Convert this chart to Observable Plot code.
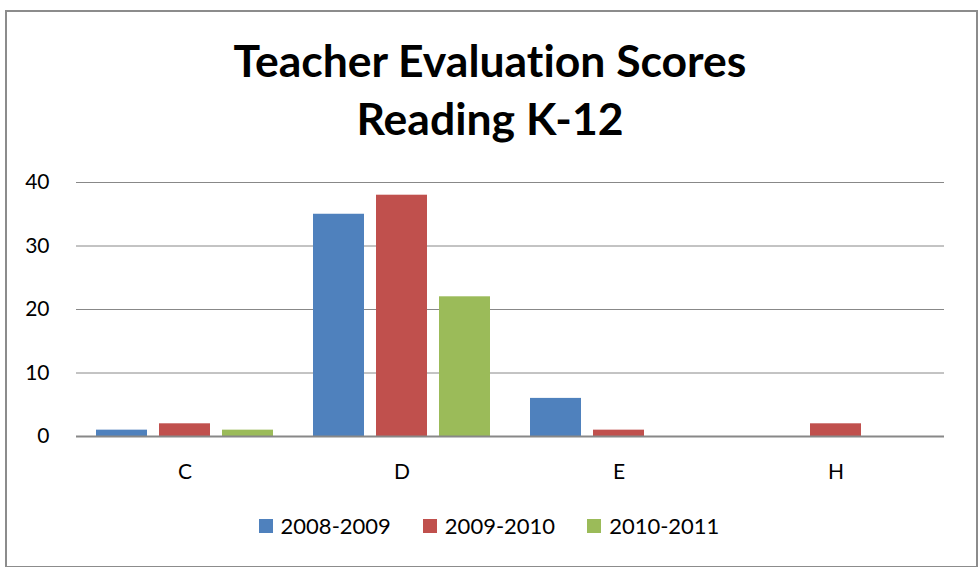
<!DOCTYPE html>
<html>
<head>
<meta charset="utf-8">
<script src="https://cdn.jsdelivr.net/npm/d3@7"></script>
<script src="https://cdn.jsdelivr.net/npm/@observablehq/plot@0.6"></script>
<style>
  html, body { margin: 0; padding: 0; background: #fff; }
  #frame { position: absolute; left: 5px; top: 10px; width: 969px; height: 554px; border: 2px solid #8c8c8c; box-sizing: content-box; }
  #wrap { position: absolute; left: 0; top: 0; width: 978px; height: 567px; font-family: Lato, "Open Sans", sans-serif; font-variant-ligatures: none; }
  #title { position: absolute; left: 0; top: 31px; width: 980px; text-align: center; font-weight: bold; font-size: 44.5px; line-height: 58px; color: #000; font-variant-ligatures: none; }
  #chart { position: absolute; left: 0; top: 160px; }
  #legend { position: absolute; left: 0; top: 512px; width: 978px; display: flex; justify-content: center; gap: 32px; font-size: 22px; color: #000; }
  .item { display: flex; align-items: center; gap: 8px; }
  .sw { width: 14px; height: 14px; display: inline-block; }
</style>
</head>
<body>
<div id="wrap">
  <div id="frame"></div>
  <div id="title">Teacher Evaluation Scores<br>Reading K-12</div>
  <div id="chart"></div>
  <div id="legend"></div>
</div>
<script>
const categories = ["C", "D", "E", "H"];
const seriesNames = ["2008-2009", "2009-2010", "2010-2011"];
const colors = ["#4F81BD", "#C0504D", "#9BBB59"];
const values2008 = [1, 35, 6, 0];
const values2009 = [2, 38, 1, 2];
const values2010 = [1, 22, 0, 0];
const yTicks = [0, 10, 20, 30, 40];

const allValues = [values2008, values2009, values2010];
const data = [];
categories.forEach((c, i) => {
  seriesNames.forEach((s, j) => {
    data.push({category: c, series: s, value: allValues[j][i]});
  });
});

const chart = Plot.plot({
  width: 978,
  height: 330,
  marginLeft: 75,
  marginRight: 33,
  marginTop: 22,
  marginBottom: 54,
  style: {fontFamily: "Lato, 'Open Sans', sans-serif", fontSize: "21px", color: "#000", background: "transparent"},
  fx: {domain: categories, padding: 0, label: null, axis: null},
  x: {domain: seriesNames, paddingInner: 0.19, paddingOuter: 0.307, axis: null},
  y: {domain: [0, 40], ticks: yTicks, label: null, axis: null},
  color: {domain: seriesNames, range: colors},
  marks: [
    Plot.ruleY(yTicks.filter(d => d > 0), {stroke: "#888", strokeWidth: 1, strokeOpacity: 1}),
    Plot.axisY({ticks: yTicks, tickSize: 0, tickPadding: 27, label: null, fontSize: 21}),
    Plot.barY(data, {fx: "category", x: "series", y: "value", fill: "series"}),
    Plot.axisFx({domain: categories, anchor: "bottom", tickSize: 0, tickPadding: 28, label: null, fontSize: 21}),
    Plot.ruleY([0], {stroke: "#888", strokeWidth: 2})
  ]
});
document.getElementById("chart").appendChild(chart);

const legend = document.getElementById("legend");
seriesNames.forEach((s, i) => {
  const it = document.createElement("div");
  it.className = "item";
  it.innerHTML = `<span class="sw" style="background:${colors[i]}"></span><span>${s}</span>`;
  legend.appendChild(it);
});
</script>
</body>
</html>
